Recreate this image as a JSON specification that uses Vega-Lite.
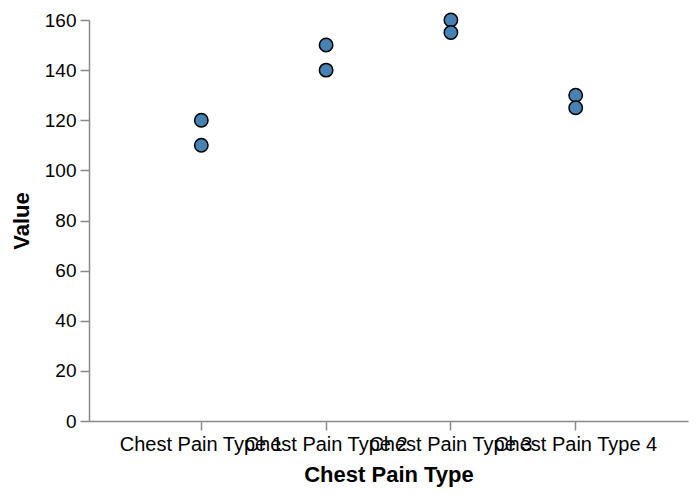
{
  "$schema": "https://vega.github.io/schema/vega-lite/v6.json",
  "width": 599,
  "height": 401,
  "autosize": "none",
  "padding": {"left": 89, "top": 20, "right": 10, "bottom": 73},
  "data": {"values": [
    {"type": "Chest Pain Type 1", "value": 120},
    {"type": "Chest Pain Type 1", "value": 110},
    {"type": "Chest Pain Type 2", "value": 150},
    {"type": "Chest Pain Type 2", "value": 140},
    {"type": "Chest Pain Type 3", "value": 160},
    {"type": "Chest Pain Type 3", "value": 155},
    {"type": "Chest Pain Type 4", "value": 130},
    {"type": "Chest Pain Type 4", "value": 125}
  ]},
  "mark": {"type": "point", "filled": true, "fill": "steelblue", "stroke": "black", "strokeWidth": 1.5, "opacity": 1, "size": 180},
  "encoding": {
    "x": {"field": "type", "type": "nominal", "title": "Chest Pain Type", "scale": {"type": "band", "paddingInner": 0.1, "paddingOuter": 0.45}, "axis": {"labelAngle": 0, "labelFontSize": 20, "titlePadding": 10}},
    "y": {"field": "value", "type": "quantitative", "title": "Value", "axis": {"labelFontSize": 19, "titlePadding": 11}}
  },
  "config": {
    "view": {"stroke": null},
    "axis": {"titleFontSize": 22, "grid": false, "tickSize": 9, "labelPadding": 4, "domainWidth": 1.5, "tickWidth": 1.5, "labelFont": "Liberation Sans", "titleFont": "Liberation Sans", "labelColor": "#000", "titleColor": "#000"}
  }
}
